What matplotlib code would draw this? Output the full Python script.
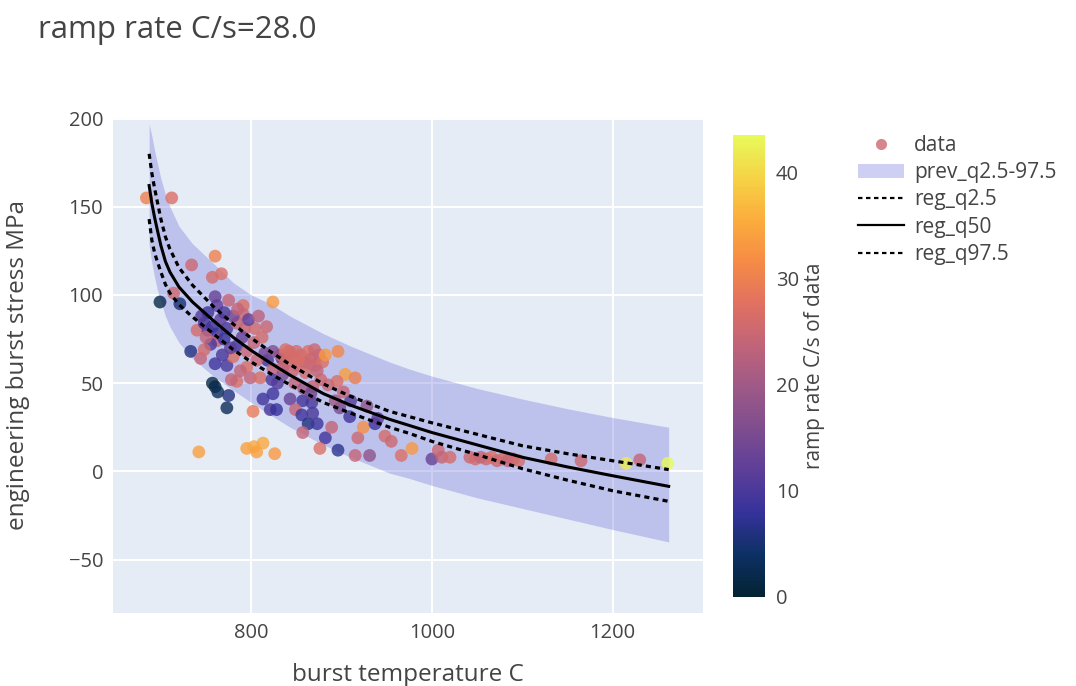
import matplotlib
matplotlib.use("Agg")
import matplotlib.pyplot as plt
from matplotlib.colors import LinearSegmentedColormap, Normalize
from matplotlib.lines import Line2D
from matplotlib.patches import Patch

plt.rcParams['font.family'] = ['Open Sans', 'DejaVu Sans']

TITLE = "ramp rate C/s=28.0"
X_LABEL = "burst temperature C"
Y_LABEL = "engineering burst stress MPa"
CBAR_LABEL = "ramp rate C/s of data"

# measured bursts: temperature (C), stress (MPa), ramp rate (C/s)
burst_temp = [
    684, 712, 734, 760, 757, 767, 714, 699, 721, 760, 762, 775, 791, 824, 791,
    740, 748, 752, 757, 762, 762, 773, 784, 793, 804, 817, 733, 744, 760, 773,
    760, 757, 763, 775, 773, 780, 784, 799, 795, 802, 813, 821, 824, 828, 818,
    824, 768, 784, 788, 810, 778, 815, 806, 834, 835, 797,
    745, 752, 766, 770, 780, 755, 770, 777, 790, 750, 785, 795, 803, 812, 808, 748,
    832, 838, 842, 847, 851, 855, 859, 863, 867, 871, 875, 879, 846, 860, 870, 838,
    835, 844, 853, 865, 873, 850,
    882, 896, 904, 915, 895, 885, 824,
    843, 857, 867, 849, 856, 863, 873, 857, 882, 889, 876, 896, 909, 898, 918,
    915, 931, 924, 937, 948, 966, 928, 823, 829, 868, 893, 910, 868, 877, 848,
    858, 866, 940, 955, 902,
    742, 795, 803, 806, 813, 826,
    978, 1000, 1007, 1011, 1020, 1042, 1048, 1054, 1060, 1066, 1072, 1078, 1084,
    1090, 1096, 1132, 1165, 1215, 1230, 1261,
]
burst_stress = [
    155, 155, 117, 122, 110, 112, 101, 96, 95, 99, 94, 97, 94, 96, 89,
    80, 84, 80, 82, 78, 74, 81, 84, 81, 81, 82, 68, 64, 61, 60,
    48, 50, 45, 43, 36, 65, 51, 53, 59, 34, 41, 35, 44, 35, 63,
    58, 66, 71, 57, 53, 52, 67, 63, 64, 55, 86,
    88, 90, 86, 90, 88, 72, 75, 70, 76, 76, 92, 68, 73, 76, 88, 69,
    66, 62, 68, 64, 60, 66, 62, 68, 64, 60, 66, 62, 57, 56, 69, 69,
    59, 66, 63, 61, 57, 68,
    66, 68, 55, 53, 51, 49, 68,
    41, 40, 39, 35, 32, 27, 27, 22, 19, 25, 13, 12, 31, 36, 19,
    9, 9, 25, 27, 20, 9, 37, 52, 50, 33, 40, 40, 48, 52, 50,
    47, 44, 30, 17, 45,
    11, 13, 14, 11, 16, 10,
    13, 7, 12, 8, 8, 8, 7, 8, 7, 8, 6, 7, 6,
    7, 6, 7, 6, 4.5, 6.5, 4.5,
]
burst_rate = [
    30, 27, 25, 30, 26, 27, 25, 2, 5, 13, 12, 24, 27, 33, 25,
    26, 10, 12, 9, 9, 24, 10, 24, 25, 26, 25, 6, 24, 9, 10,
    1, 2, 3, 6, 3, 27, 27, 24, 27, 29, 9, 10, 9, 8, 9,
    24, 10, 9, 24, 27, 24, 14, 25, 9, 15, 12,
    11, 9, 12, 10, 14, 10, 8, 12, 13, 24, 24, 25, 24, 26, 23, 26,
    25, 26, 24, 27, 25, 26, 24, 27, 25, 26, 24, 27, 25, 26, 25, 27,
    24, 26, 27, 25, 24, 26,
    33, 31, 34, 30, 27, 25, 16,
    13, 9, 10, 24, 9, 6, 9, 24, 9, 24, 27, 7, 9, 15, 25,
    24, 18, 32, 9, 26, 27, 18, 10, 11, 10, 20, 11, 24, 25, 24,
    20, 14, 12, 25, 24,
    34, 34, 35, 34, 35, 33,
    33, 13, 25, 24, 26, 25, 26, 24, 25, 27, 25, 26, 24,
    25, 26, 26, 25, 42, 24, 43.5,
]

# fitted quantile curves and previous prediction interval
fit_temp = [687, 690, 693, 696, 700, 705, 710, 720, 735, 758, 780, 800,
            821, 843, 880, 910, 953, 975, 1000, 1050, 1100, 1150, 1200, 1262]
reg_q50 = [162, 152, 144, 137, 128, 119, 113, 104.5, 96, 85.5, 76, 68.5,
           61.5, 54.5, 44, 37.5, 29.5, 26, 22, 15, 8, 2.5, -2.5, -8.5]
reg_q2_5 = [143, 131, 124, 119, 113, 106, 101, 94.5, 87.5, 78, 69, 62,
            55.5, 49, 39, 33, 25, 21.5, 17, 9.5, 1.5, -5, -11, -17]
reg_q97_5 = [180, 169, 160.5, 153, 143, 133, 126, 115.5, 105.5, 93.5, 83.5, 75.5,
             68, 60.5, 49.5, 42.5, 34, 31, 27.5, 21, 14.5, 10, 6, 1]
prev_upper = [197, 190, 182, 175, 166, 157, 150, 139, 129, 118, 107, 100,
              95, 88, 78, 71, 62, 58, 54, 47, 41, 35.5, 30.5, 25]
prev_lower = [128, 118, 110, 103, 96, 88, 82, 73, 64, 54, 46, 39,
              32, 25, 15, 8, -1, -4, -8, -15, -21, -27, -33, -40]

thermal = LinearSegmentedColormap.from_list("thermal", [
    (3/255, 35/255, 51/255), (13/255, 48/255, 100/255), (53/255, 50/255, 155/255),
    (93/255, 62/255, 153/255), (126/255, 77/255, 143/255), (158/255, 89/255, 135/255),
    (193/255, 100/255, 121/255), (225/255, 113/255, 97/255), (246/255, 139/255, 69/255),
    (251/255, 173/255, 60/255), (246/255, 211/255, 70/255), (231/255, 250/255, 90/255),
])
norm = Normalize(vmin=0, vmax=43.5)

W, H = 1076, 686
fig = plt.figure(figsize=(W / 100, H / 100), dpi=100)
fig.patch.set_facecolor("white")

TXT = "#444444"
ax = fig.add_axes([113 / W, 1 - 613 / H, (703 - 113) / W, (613 - 118) / H])
ax.set_facecolor("#E5ECF6")
for s in ax.spines.values():
    s.set_visible(False)
ax.set_xlim(647, 1300)
ax.set_ylim(-80.3, 200.3)
ax.set_xticks([800, 1000, 1200])
ax.set_yticks([-50, 0, 50, 100, 150, 200])
ax.grid(True, color="white", linewidth=1.4)
ax.set_axisbelow(True)
ax.tick_params(length=0, labelsize=14.5, labelcolor=TXT, pad=7)

band_color = (0.42, 0.42, 0.86, 0.32)
ax.fill_between(fit_temp, prev_lower, prev_upper, color=band_color, linewidth=0, zorder=1)

sc = ax.scatter(burst_temp, burst_stress, c=burst_rate, cmap=thermal, norm=norm,
                s=85, alpha=0.8, linewidths=0, zorder=2)

dash = (0, (1.6, 1.3))
ax.plot(fit_temp, reg_q2_5, color="black", lw=2.3, linestyle=dash, zorder=3)
ax.plot(fit_temp, reg_q50, color="black", lw=2.2, zorder=3)
ax.plot(fit_temp, reg_q97_5, color="black", lw=2.3, linestyle=dash, zorder=3)

ax.set_xlabel(X_LABEL, fontsize=17.5, color=TXT)
ax.set_ylabel(Y_LABEL, fontsize=17.5, color=TXT)
ax.xaxis.set_label_coords(0.5, -(675 - 613) / 495, transform=ax.transAxes)
ax.yaxis.set_label_coords(-(113 - 18) / 590, 0.5, transform=ax.transAxes)
ax.xaxis.label.set_va("center")
ax.yaxis.label.set_va("center")

fig.text(38 / W, 1 - 30 / H, TITLE, fontsize=22.5, color=TXT, va="center", ha="left")

cax = fig.add_axes([733 / W, 1 - 597 / H, 32 / W, (597 - 135) / H])
cb = fig.colorbar(sc, cax=cax)
cb.outline.set_visible(False)
cb.solids.set_alpha(1)
cb.set_ticks([0, 10, 20, 30, 40])
cax.tick_params(length=0, labelsize=14.5, labelcolor=TXT, pad=8)
cb.set_label(CBAR_LABEL, fontsize=15, color=TXT)
cax.yaxis.set_label_coords((815 - 733) / 32, 0.5, transform=cax.transAxes)
cax.yaxis.label.set_va("center")

handles = [
    Line2D([], [], marker="o", linestyle="none", markersize=8,
           markerfacecolor=thermal(norm(25)), markeredgewidth=0, alpha=0.8),
    Patch(facecolor=band_color, edgecolor="none"),
    Line2D([], [], color="black", lw=1.6, linestyle=(0, (2, 1.6))),
    Line2D([], [], color="black", lw=1.6),
    Line2D([], [], color="black", lw=1.6, linestyle=(0, (2, 1.6))),
]
labels = ["data", "prev_q2.5-97.5", "reg_q2.5", "reg_q50", "reg_q97.5"]
fig.legend(handles, labels, loc="upper left", bbox_to_anchor=(858 / W, 1 - 135 / H),
           frameon=False, fontsize=15, labelcolor=TXT, handlelength=2.2,
           handletextpad=0.5, labelspacing=0.3, borderaxespad=0, borderpad=0)

fig.savefig("out.png", dpi=100)
